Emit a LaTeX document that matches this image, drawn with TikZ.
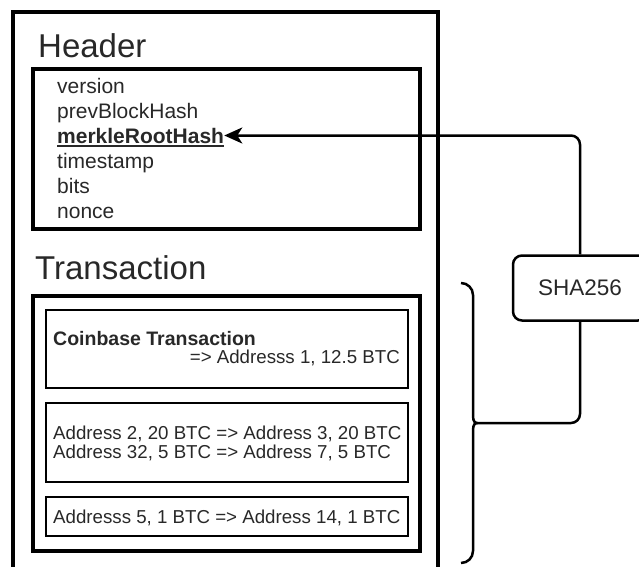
\documentclass[tikz,border=0pt]{standalone}
\usepackage{fontspec}
\setmainfont{Liberation Sans}
\usetikzlibrary{arrows.meta}
\definecolor{txtgray}{RGB}{40,40,40}

\begin{document}
\begin{tikzpicture}[x=1pt,y=-1pt,
  title/.style={anchor=base west,inner sep=0pt,text=txtgray,font=\fontsize{33}{36}\selectfont},
  field/.style={anchor=base west,inner sep=0pt,text=txtgray,font=\fontsize{21}{24}\selectfont},
  txline/.style={anchor=base west,inner sep=0pt,text=txtgray,font=\fontsize{18.7}{22}\selectfont},
  link/.style={line width=2.5pt,rounded corners=9pt}]
\useasboundingbox (0,0) rectangle (639,566);
\clip (0,0) rectangle (639,566);
\draw[line width=4pt] (13,12) rectangle (438,600);
\draw[line width=4pt] (33,69) rectangle (420,229);
\draw[line width=4pt] (33,296) rectangle (420,551);
\draw[line width=2pt] (46,310) rectangle (408,388);
\draw[line width=2pt] (46,403) rectangle (408,482);
\draw[line width=2pt] (46,497) rectangle (408,536);
\node[title] (hdr) at (38,57) {Header};
\node[title] (trx) at (35,279) {Transaction};
\foreach \nm/\txt [count=\i] in {ver/version,prev/prevBlockHash,merkle/\textbf{merkleRootHash},time/timestamp,bits/bits,nonce/nonce}
  \node[field] (\nm) at (57,68+25*\i) {\txt};
\draw[line width=1.6pt,txtgray] ([yshift=-2.5pt]merkle.south west) -- ([yshift=-2.5pt]merkle.south east);
\node[txline,font=\fontsize{19.5}{22}\selectfont\bfseries] (coin) at (53,345) {Coinbase Transaction};
\node[txline,anchor=base east] (coinout) at (400,363) {=> Addresss 1, 12.5 BTC};
\node[txline] (tx2a) at (53,439) {Address 2, 20 BTC => Address 3, 20 BTC};
\node[txline] (tx2b) at (53,458) {Address 32, 5 BTC => Address 7, 5 BTC};
\node[txline] (tx3) at (53,523) {Addresss 5, 1 BTC => Address 14, 1 BTC};
\node[draw,line width=2.5pt,rounded corners=9pt,minimum width=134pt,minimum height=65pt,
  text=txtgray,font=\fontsize{22.5}{26}\selectfont] (sha) at (580,288) {SHA256};
\coordinate (brtop) at (461,283);
\coordinate (brtip) at (477,423);
\coordinate (brbot) at (461,563);
\draw[line width=2.5pt] (brtop) to[out=0,in=90] (473,295) -- (473,413) to[out=-90,in=180] (brtip)
  to[out=180,in=90] (473,433) -- (473,551) to[out=-90,in=0] (brbot);
\draw[link,-{Stealth[length=18pt,width=16pt,inset=5pt]}] (sha.north) |- (merkle.east);
\draw[link] (sha.south) |- (brtip);
\end{tikzpicture}
\end{document}
